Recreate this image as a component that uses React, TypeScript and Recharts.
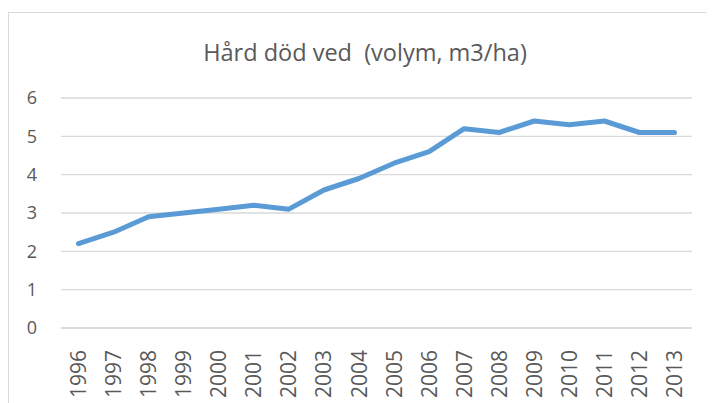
import React from 'react';
import { LineChart, Line, XAxis, YAxis, CartesianGrid } from 'recharts';

const years = ['1996', '1997', '1998', '1999', '2000', '2001', '2002', '2003', '2004', '2005', '2006', '2007', '2008', '2009', '2010', '2011', '2012', '2013'];
const volume = [2.2, 2.5, 2.9, 3.0, 3.1, 3.2, 3.1, 3.6, 3.9, 4.3, 4.6, 5.2, 5.1, 5.4, 5.3, 5.4, 5.1, 5.1];
const yTicks = [0, 1, 2, 3, 4, 5, 6];

const data = years.map((year, i) => ({ year, value: volume[i] }));

const FONT = '"Open Sans", sans-serif';
const TEXT = '#595959';

function YearTick({ x, y, payload }: any) {
  return (
    <g transform={`translate(${x},${y + 14}) rotate(-90)`}>
      <text textAnchor="end" dy="0.36em" fill={TEXT} fontSize={21} fontFamily={FONT}>
        {payload.value}
      </text>
    </g>
  );
}

export default function App() {
  return (
    <div
      style={{
        position: 'relative',
        marginTop: 4,
        width: 730,
        height: 410,
        border: '1px solid #d9d9d9',
        background: '#fff',
      }}
    >
      <div
        style={{
          position: 'absolute',
          left: 0,
          width: 712,
          top: 23,
          textAlign: 'center',
          fontFamily: FONT,
          fontSize: 23.5,
          color: TEXT,
          whiteSpace: 'pre',
        }}
      >
        {'Hård död ved  (volym, m3/ha)'}
      </div>
      <LineChart width={705} height={390} data={data} margin={{ top: 85, right: 22, left: 0, bottom: 0 }}>
        <CartesianGrid vertical={false} stroke="#d9d9d9" strokeWidth={1.3} />
        <XAxis
          dataKey="year"
          interval={0}
          height={75}
          padding={{ left: 17.5, right: 17.5 }}
          tick={<YearTick />}
          tickLine={false}
          axisLine={{ stroke: '#d9d9d9', strokeWidth: 1.3 }}
        />
        <YAxis
          width={52}
          domain={[0, 6]}
          ticks={yTicks}
          tickLine={false}
          axisLine={false}
          tickMargin={18}
          tick={{ fill: TEXT, fontSize: 18, fontFamily: FONT }}
        />
        <Line
          type="linear"
          dataKey="value"
          stroke="#5b9bd5"
          strokeWidth={5}
          strokeLinecap="round"
          strokeLinejoin="round"
          dot={false}
          isAnimationActive={false}
        />
      </LineChart>
    </div>
  );
}
